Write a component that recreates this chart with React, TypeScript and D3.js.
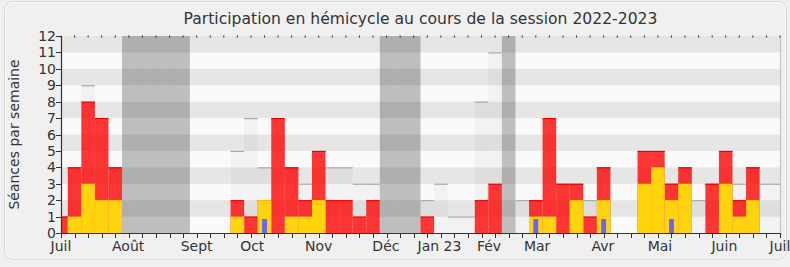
import React from "react";
import * as d3 from "d3";

const W = 790;
const H = 267;

// weekly data, index = week number (0..53)
const seances = [1,4,9,7,4,0,0,0,0,0,0,0,0,5,7,4,7,4,3,5,4,4,3,3,0,0,0,2,3,1,1,8,11,0,2,2,7,3,3,2,4,0,0,5,5,3,4,2,3,5,3,4,3,3];
const presences = [1,4,8,7,4,0,0,0,0,0,0,0,0,2,1,2,7,4,2,5,2,2,1,2,0,0,0,1,0,0,0,2,3,0,0,2,7,3,3,1,4,0,0,5,5,3,4,0,3,5,2,4,0,0];
const interventions = [0,1,3,2,2,0,0,0,0,0,0,0,0,1,0,2,0,1,1,2,0,0,0,0,0,0,0,0,0,0,0,0,0,0,0,1,1,0,2,0,2,0,0,3,4,2,3,0,0,3,1,2,0,0];
const questions = [0,0,0,0,0,0,0,0,0,0,0,0,0,0,0,1,0,0,0,0,0,0,0,0,0,0,0,0,0,0,0,0,0,0,0,1,0,0,0,0,1,0,0,0,0,1,0,0,0,0,0,0,0,0];
const vacances = [5,6,7,8,9,24,25,26,33];

const monthLabels = ["Juil","Août","Sept","Oct","Nov","Déc","Jan 23","Fév","Mar","Avr","Mai","Juin","Juil"];
const monthWeeks = [0,4.95,10,14.1,19,23.95,27.9,31.55,35.1,39.95,44.15,48.9,53];
const yTicks = [0,1,2,3,4,5,6,7,8,9,10,11,12];

const title = "Participation en hémicycle au cours de la session 2022-2023";
const yTitle = "Séances par semaine";

const FONT = "DejaVu Sans";

export default function App() {
  const nWeeks = 53;
  const left = 61, right = 780, top = 36, bottom = 233;
  const x = d3.scaleLinear().domain([0, nWeeks]).range([left, right]);
  const y = d3.scaleLinear().domain([0, 12]).range([bottom, top]);
  const weeks = d3.range(0, nWeeks + 1);
  const bx0 = (k: number) => x(Math.max(0, k - 0.5));
  const bx1 = (k: number) => x(Math.min(nWeeks, k + 0.5));
  const bw = x(1) - x(0);

  return (
    <div style={{ position: "absolute", left: 0, top: 0 }}>
      <svg width={W} height={H} style={{ display: "block" }} fontFamily={FONT}>
        <rect x={0} y={0} width={W} height={H} fill="#f0f0f0" />
        <rect x={4.5} y={1.5} width={782} height={257.5} rx={8} fill="#f0f0f0" stroke="#d6d6d6" />
        <rect x={5.5} y={2.5} width={780} height={255.5} rx={7} fill="none" stroke="#fbfbfb" />

        {/* stripes */}
        {d3.range(0, 12).map((v) => (
          <rect key={"s" + v} x={left} y={y(v + 1)} width={right - left} height={y(v) - y(v + 1)}
            fill={v % 2 === 1 ? "#e6e6e6" : "#fafafa"} />
        ))}

        {/* vacations */}
        {vacances.map((k) => (
          <rect key={"v" + k} x={bx0(k)} y={top} width={bx1(k) - bx0(k)} height={bottom - top}
            fill="#000" fillOpacity={0.24} />
        ))}

        {/* séances (gray) */}
        {weeks.map((k) => seances[k] > 0 && (
          <g key={"g" + k}>
            <rect x={bx0(k)} y={y(seances[k])} width={bx1(k) - bx0(k)} height={bottom - y(seances[k])}
              fill="#000" fillOpacity={0.03} />
            <line x1={bx0(k)} x2={bx1(k)} y1={y(seances[k]) + 0.5} y2={y(seances[k]) + 0.5} stroke="#aaa" strokeWidth={1.2} />
          </g>
        ))}

        {/* présences (red) */}
        {weeks.map((k) => presences[k] > 0 && (
          <g key={"r" + k}>
            <rect x={bx0(k)} y={y(presences[k])} width={bx1(k) - bx0(k)} height={bottom - y(presences[k])}
              fill="#ff0000" fillOpacity={0.78} />
            <line x1={bx0(k)} x2={bx1(k)} y1={y(presences[k]) + 0.5} y2={y(presences[k]) + 0.5} stroke="#ee0000" strokeWidth={1} />
          </g>
        ))}

        {/* interventions (yellow) */}
        {weeks.map((k) => interventions[k] > 0 && (
          <rect key={"y" + k} x={bx0(k)} y={y(interventions[k])} width={bx1(k) - bx0(k)} height={bottom - y(interventions[k])}
            fill="#ffd40f" />
        ))}

        {/* questions (blue) */}
        {weeks.map((k) => questions[k] > 0 && (
          <rect key={"q" + k} x={x(k) - bw * 0.18} y={y(questions[k] * 0.85)} width={bw * 0.36} height={bottom - y(questions[k] * 0.85)}
            fill="#6666ff" />
        ))}

        {/* right border */}
        <line x1={right + 0.5} x2={right + 0.5} y1={top} y2={bottom} stroke="#c4c4c4" strokeWidth={1.2} />

        {/* top ticks */}
        {weeks.map((k) => (
          <line key={"tt" + k} x1={x(k)} x2={x(k)} y1={top - 0.5} y2={top + 1.5} stroke="#222" strokeWidth={1} />
        ))}

        {/* x axis */}
        <line x1={left} x2={right} y1={bottom + 0.5} y2={bottom + 0.5} stroke="#333" strokeWidth={1.2} />
        {weeks.map((k) => (
          <line key={"xt" + k} x1={Math.round(x(k)) + 0.5} x2={Math.round(x(k)) + 0.5} y1={bottom} y2={bottom + 5} stroke="#333" strokeWidth={1} />
        ))}
        {monthLabels.map((m, i) => (
          <text key={"m" + i} x={x(monthWeeks[i])} y={251} textAnchor="middle" fontSize={14} fill="#333">{m}</text>
        ))}

        {/* y axis */}
        <line x1={left + 0.5} x2={left + 0.5} y1={top} y2={bottom + 0.5} stroke="#333" strokeWidth={1.2} />
        {yTicks.map((v) => (
          <g key={"yt" + v}>
            <line x1={left - 5} x2={left} y1={Math.round(y(v)) + 0.5} y2={Math.round(y(v)) + 0.5} stroke="#333" strokeWidth={1} />
            <text x={56} y={y(v)} dy="0.36em" textAnchor="end" fontSize={14} fill="#333">{v}</text>
          </g>
        ))}

        <text x={0} y={0} transform={`translate(19,${(top + bottom) / 2}) rotate(-90)`} textAnchor="middle" fontSize={14} fill="#333">{yTitle}</text>

        <text x={(left + right) / 2} y={24} textAnchor="middle" fontSize={15.6} fill="#333">{title}</text>
      </svg>
    </div>
  );
}
